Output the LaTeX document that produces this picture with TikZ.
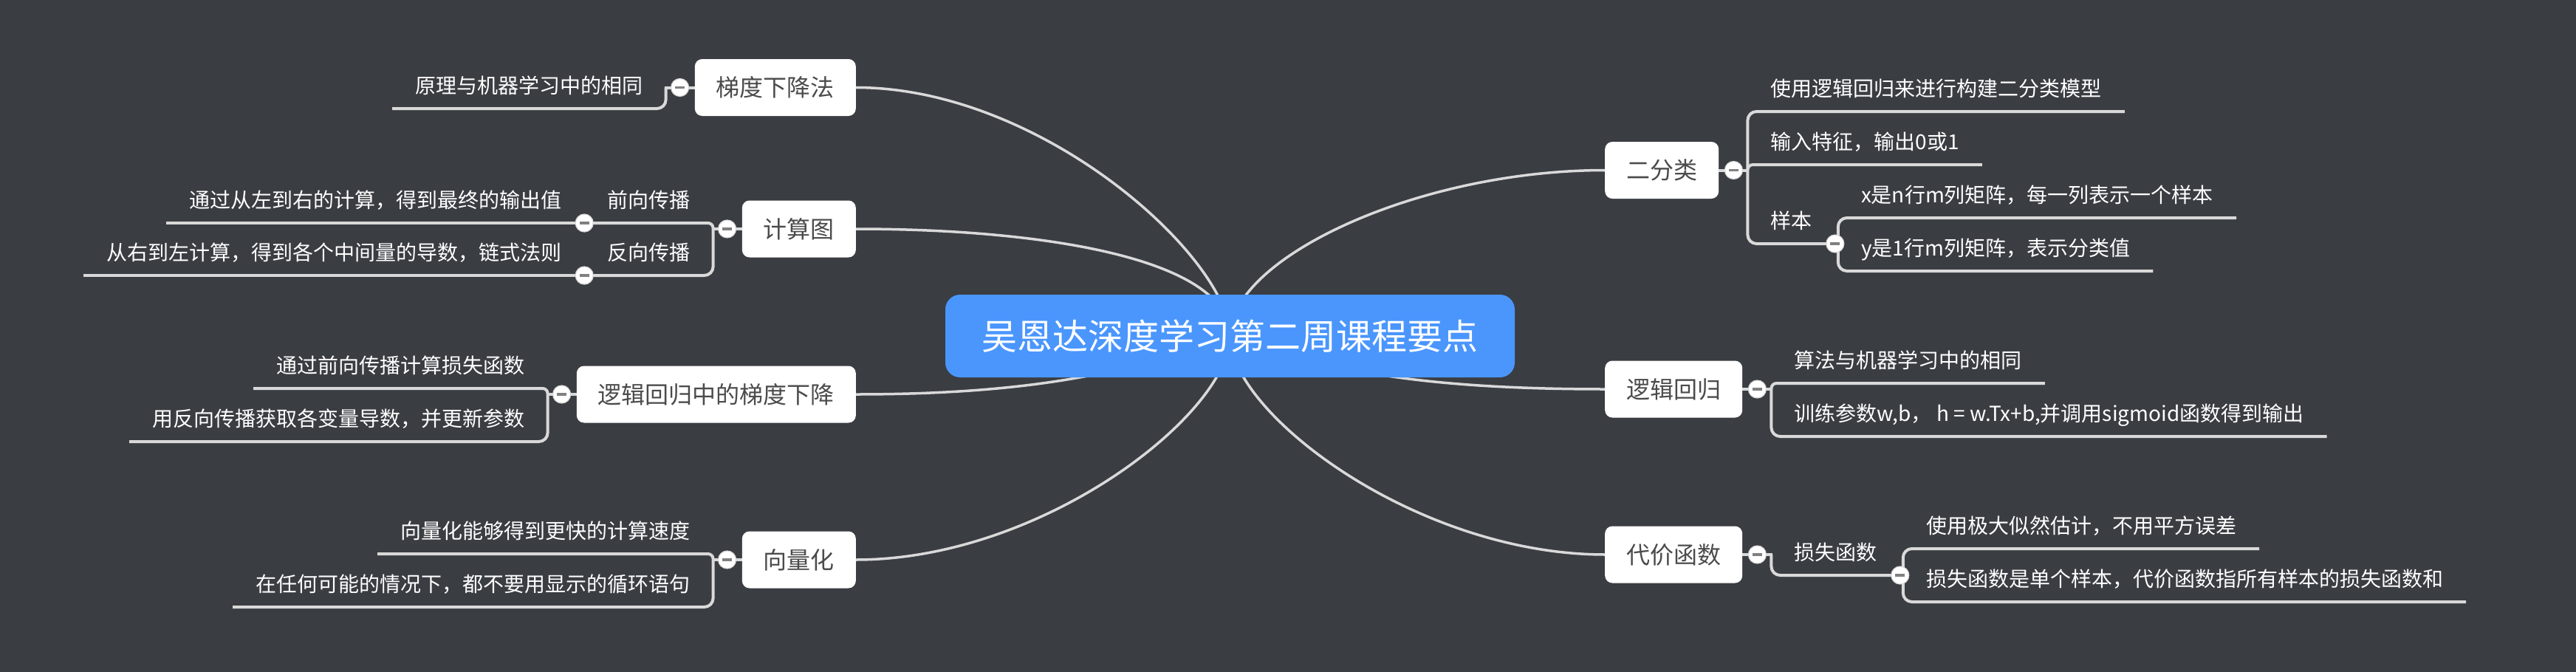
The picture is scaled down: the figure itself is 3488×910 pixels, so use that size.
\documentclass[tikz,border=0pt]{standalone}
\usepackage{fontspec}
\setmainfont{Noto Sans CJK SC}
\usetikzlibrary{backgrounds}
\definecolor{bgc}{HTML}{3A3D42}
\definecolor{linec}{HTML}{D9D9D9}
\definecolor{rootc}{HTML}{4A96FD}
\definecolor{boxtext}{HTML}{4B4B4B}
\definecolor{minusc}{HTML}{808080}
\tikzset{
  rootbox/.style={rectangle, rounded corners=20pt, fill=rootc, text=white,
    font=\fontsize{48}{58}\selectfont, minimum width=771pt, minimum height=112pt,
    inner sep=0pt, text height=42.2pt, text depth=5.8pt},
  mainbox/.style={rectangle, rounded corners=10pt, fill=white, text=boxtext,
    font=\fontsize{32}{38}\selectfont, inner xsep=29pt, inner ysep=0pt,
    minimum height=77pt, text height=28.2pt, text depth=3.8pt},
  leaf/.style={rectangle, text=white, font=\fontsize{28}{34}\selectfont,
    inner xsep=31pt, inner ysep=0pt, minimum height=62pt,
    text height=24.6pt, text depth=3.4pt},
  leafR/.style={leaf, anchor=south west},
  leafL/.style={leaf, anchor=south east},
  toggle/.style={circle, fill=white, draw=linec, line width=1.2pt,
    minimum size=24pt, inner sep=0pt,
    path picture={\draw[minusc, line width=3.5pt]
      ([xshift=-6.5pt]path picture bounding box.center) --
      ([xshift=6.5pt]path picture bounding box.center);}},
  trunk/.style={draw=linec, line width=3.5pt},
  stub/.style={draw=linec, line width=4pt, line cap=rect},
  branch/.style={draw=linec, line width=4pt, rounded corners=12pt},
  nearbranch/.style={draw=linec, line width=4pt, rounded corners=7pt},
}
\begin{document}
\begin{tikzpicture}[x=1pt,y=-1pt]
\useasboundingbox (0,0) rectangle (3488,910);

\node[rootbox] (root) at (1665.5,455) {吴恩达深度学习第二周课程要点};

% ---------- left side ----------
\node[mainbox, anchor=east] (gd) at (1159,118.5) {梯度下降法};
\node[toggle] (gdt) at ([xshift=-20pt]gd.west) {};
\coordinate (gdj) at ([xshift=-39pt]gd.west);
\node[leafL] (gd1) at ([yshift=-28.5pt]gdj) {原理与机器学习中的相同};

\node[mainbox, anchor=east] (cg) at (1159,310) {计算图};
\node[toggle] (cgt) at ([xshift=-20pt]cg.west) {};
\coordinate (cgj) at ([xshift=-39pt]cg.west);
\node[leafL] (fw) at ([yshift=8pt]cgj) {前向传播};
\node[toggle] (fwt) at (fw.south west) {};
\node[leafL] (fw1) at (fwt.center) {通过从左到右的计算，得到最终的输出值};
\node[leafL] (bw) at ([yshift=-63pt]cgj) {反向传播};
\node[toggle] (bwt) at (bw.south west) {};
\node[leafL] (bw1) at (bwt.center) {从右到左计算，得到各个中间量的导数，链式法则};

\node[mainbox, anchor=east] (lg) at (1159,534) {逻辑回归中的梯度下降};
\node[toggle] (lgt) at ([xshift=-20pt]lg.west) {};
\coordinate (lgj) at ([xshift=-39pt]lg.west);
\node[leafL] (lg1) at ([yshift=8pt]lgj) {通过前向传播计算损失函数};
\node[leafL] (lg2) at ([yshift=-64pt]lgj) {用反向传播获取各变量导数，并更新参数};

\node[mainbox, anchor=east] (vec) at (1159,758) {向量化};
\node[toggle] (vect) at ([xshift=-20pt]vec.west) {};
\coordinate (vecj) at ([xshift=-39pt]vec.west);
\node[leafL] (vec1) at ([yshift=8pt]vecj) {向量化能够得到更快的计算速度};
\node[leafL] (vec2) at ([yshift=-64pt]vecj) {在任何可能的情况下，都不要用显示的循环语句};

% ---------- right side ----------
\node[mainbox, anchor=west] (bc) at (2173,230.5) {二分类};
\node[toggle] (bct) at ([xshift=20pt]bc.east) {};
\coordinate (bcj) at ([xshift=39pt]bc.east);
\node[leafR] (bc1) at ([yshift=79.5pt]bcj) {使用逻辑回归来进行构建二分类模型};
\node[leafR] (bc2) at ([yshift=7.5pt]bcj) {输入特征，输出0或1};
\node[leafR] (bc3) at ([yshift=-99.5pt]bcj) {样本};
\node[toggle] (bc3t) at (bc3.south east) {};
\coordinate (bc3j) at ([xshift=4pt]bc3t.center);
\node[leafR] (bc31) at ([yshift=35pt]bc3j) {x是n行m列矩阵，每一列表示一个样本};
\node[leafR] (bc32) at ([yshift=-37pt]bc3j) {y是1行m列矩阵，表示分类值};

\node[mainbox, anchor=west] (lr) at (2173,527) {逻辑回归};
\node[toggle] (lrt) at ([xshift=20pt]lr.east) {};
\coordinate (lrj) at ([xshift=39pt]lr.east);
\node[leafR] (lr1) at ([yshift=8pt]lrj) {算法与机器学习中的相同};
\node[leafR] (lr2) at ([yshift=-64pt]lrj) {训练参数w,b， h = w.Tx+b,并调用sigmoid函数得到输出};

\node[mainbox, anchor=west] (cost) at (2173,751) {代价函数};
\node[toggle] (costt) at ([xshift=20pt]cost.east) {};
\coordinate (costj) at ([xshift=39pt]cost.east);
\node[leafR] (cost1) at ([yshift=-28pt]costj) {损失函数};
\node[toggle] (cost1t) at (cost1.south east) {};
\coordinate (cost1j) at ([xshift=4pt]cost1t.center);
\node[leafR] (cost11) at ([yshift=36pt]cost1j) {使用极大似然估计，不用平方误差};
\node[leafR] (cost12) at ([yshift=-36pt]cost1j) {损失函数是单个样本，代价函数指所有样本的损失函数和};

\begin{scope}[on background layer]
\fill[bgc] (0,0) rectangle (3488,910);
% trunks from the root
\draw[trunk] (gd.east) .. controls (1412,118.5) and (1665,350) .. (root.center);
\draw[trunk] (cg.east) .. controls (1412,310) and (1665,350) .. (root.center);
\draw[trunk] (lg.east) .. controls (1412,534) and (1540,500) .. (root.center);
\draw[trunk] (vec.east) .. controls (1412,758) and (1665,560) .. (root.center);
\draw[trunk] (bc.west) .. controls (1919,230.5) and (1665,350) .. (root.center);
\draw[trunk] (lr.west) .. controls (1919,527) and (1790,500) .. (root.center);
\draw[trunk] (cost.west) .. controls (1919,751) and (1665,560) .. (root.center);
% left branches
\draw[stub] (gd.west) -- (gdj);
\draw[branch] (gdj) -- (gd1.south east) -- (gd1.south west);
\draw[stub] (cg.west) -- (cgj);
\draw[nearbranch] (cgj) -- (fw.south east) -- (fw.south west);
\draw[branch] (cgj) -- (bw.south east) -- (bw.south west);
\draw[branch] (fwt.center) -- (fw1.south west);
\draw[branch] (bwt.center) -- (bw1.south west);
\draw[stub] (lg.west) -- (lgj);
\draw[nearbranch] (lgj) -- (lg1.south east) -- (lg1.south west);
\draw[branch] (lgj) -- (lg2.south east) -- (lg2.south west);
\draw[stub] (vec.west) -- (vecj);
\draw[nearbranch] (vecj) -- (vec1.south east) -- (vec1.south west);
\draw[branch] (vecj) -- (vec2.south east) -- (vec2.south west);
% right branches
\draw[stub] (bc.east) -- (bcj);
\draw[branch] (bcj) -- (bc1.south west) -- (bc1.south east);
\draw[nearbranch] (bcj) -- (bc2.south west) -- (bc2.south east);
\draw[branch] (bcj) -- (bc3.south west) -- (bc3.south east);
\draw[branch] (bc3j) -- (bc31.south west) -- (bc31.south east);
\draw[branch] (bc3j) -- (bc32.south west) -- (bc32.south east);
\draw[stub] (lr.east) -- (lrj);
\draw[nearbranch] (lrj) -- (lr1.south west) -- (lr1.south east);
\draw[branch] (lrj) -- (lr2.south west) -- (lr2.south east);
\draw[stub] (cost.east) -- (costj);
\draw[branch] (costj) -- (cost1.south west) -- (cost1.south east);
\draw[branch] (cost1j) -- (cost11.south west) -- (cost11.south east);
\draw[branch] (cost1j) -- (cost12.south west) -- (cost12.south east);
\end{scope}
\end{tikzpicture}
\end{document}
